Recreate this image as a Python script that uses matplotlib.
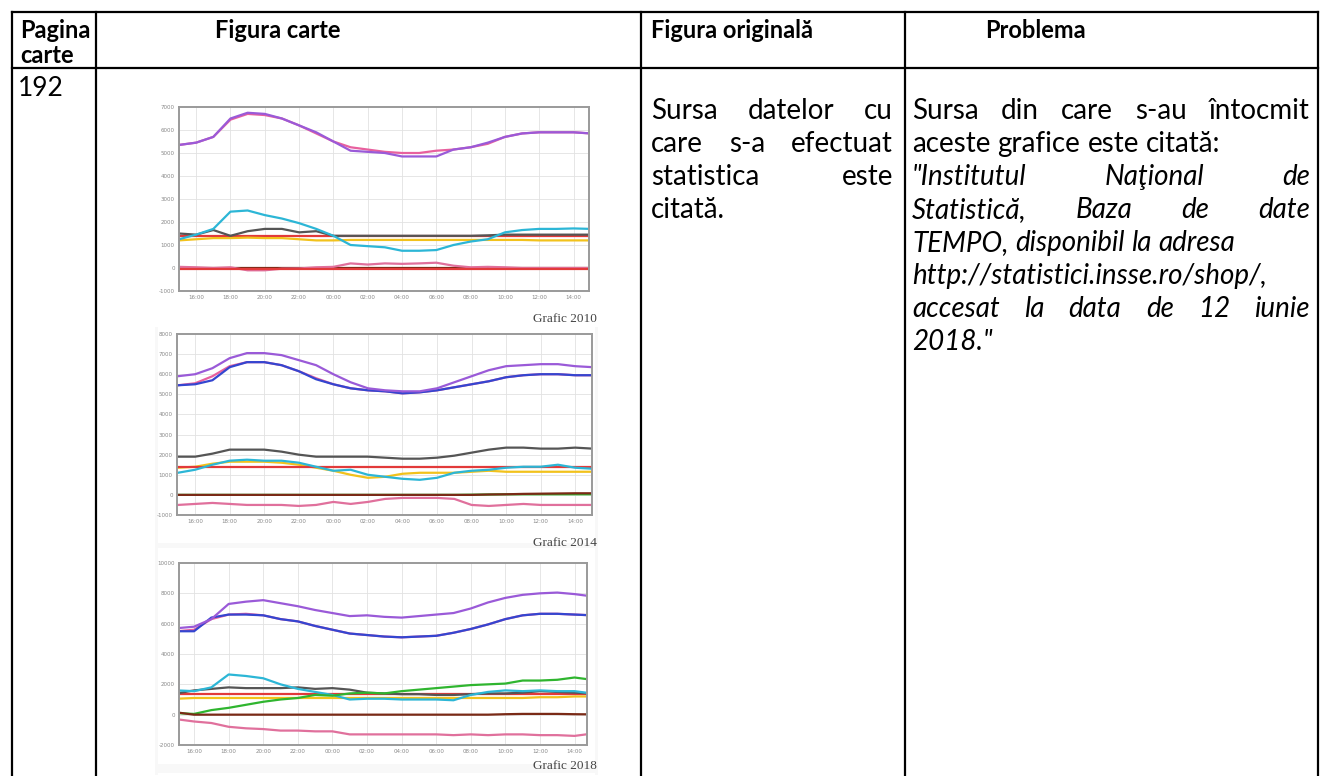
import matplotlib
matplotlib.use("Agg")
import matplotlib.pyplot as plt
from matplotlib.transforms import Affine2D
from matplotlib.lines import Line2D
from matplotlib.patches import Rectangle

# ---------------- data ----------------
HOURS = [15, 16, 17, 18, 19, 20, 21, 22, 23, 24, 25, 26, 27, 28, 29, 30, 31, 32, 33, 34, 35, 36, 37, 38, 39]
XTICKS = [16, 18, 20, 22, 24, 26, 28, 30, 32, 34, 36, 38]
XTICK_LABELS = ["16:00", "18:00", "20:00", "22:00", "00:00", "02:00", "04:00", "06:00",
                "08:00", "10:00", "12:00", "14:00"]

# Grafic 2010
purple10 = [5350, 5450, 5700, 6500, 6750, 6700, 6500, 6200, 5900, 5500, 5100, 5050, 5000, 4850, 4850, 4850, 5150, 5250, 5450, 5700, 5850, 5900, 5900, 5900, 5850]
pink10 = [5350, 5450, 5700, 6450, 6700, 6650, 6500, 6200, 5850, 5500, 5250, 5150, 5050, 5000, 5000, 5100, 5150, 5250, 5400, 5700, 5850, 5900, 5900, 5900, 5850]
cyan10 = [1250, 1450, 1700, 2450, 2500, 2300, 2150, 1950, 1700, 1400, 1000, 950, 900, 750, 750, 780, 1000, 1150, 1250, 1550, 1650, 1700, 1700, 1720, 1700]
gray10 = [1500, 1450, 1650, 1400, 1600, 1700, 1700, 1550, 1600, 1400, 1400, 1400, 1400, 1400, 1400, 1400, 1400, 1400, 1420, 1450, 1450, 1450, 1450, 1450, 1450]
red10 = [1400, 1400, 1400, 1400, 1400, 1400, 1400, 1400, 1400, 1400, 1400, 1400, 1400, 1400, 1400, 1400, 1400, 1400, 1400, 1400, 1400, 1400, 1400, 1400, 1400]
yellow10 = [1200, 1250, 1300, 1300, 1320, 1300, 1300, 1250, 1200, 1200, 1220, 1220, 1220, 1220, 1220, 1220, 1220, 1220, 1220, 1220, 1220, 1200, 1200, 1200, 1200]
sold10 = [50, 30, 0, 30, -100, -100, -30, -20, 30, 50, 200, 150, 200, 180, 200, 230, 100, 30, 50, 30, 0, 0, 0, 0, 0]
brown10 = [0, 0, 0, 0, 0, 0, 0, 0, 0, 0, 0, 0, 0, 0, 0, 0, 0, 0, 0, 0, 0, 0, 0, 0, 0]
redlow10 = [-50, -50, -50, -50, -50, -50, -50, -50, -50, -50, -50, -50, -50, -50, -50, -50, -50, -50, -50, -50, -50, -50, -50, -50, -50]

# Grafic 2014
purple14 = [5900, 6000, 6300, 6800, 7050, 7050, 6950, 6700, 6450, 6000, 5600, 5300, 5200, 5150, 5150, 5300, 5600, 5900, 6200, 6400, 6450, 6500, 6500, 6400, 6350]
blue14 = [5450, 5500, 5700, 6350, 6600, 6600, 6450, 6150, 5750, 5500, 5300, 5200, 5150, 5050, 5100, 5200, 5350, 5500, 5650, 5850, 5950, 6000, 6000, 5950, 5950]
pink14 = [5450, 5550, 5900, 6400, 6600, 6600, 6450, 6150, 5800, 5500, 5300, 5200, 5150, 5050, 5100, 5200, 5350, 5500, 5650, 5850, 5950, 6000, 6000, 5950, 5950]
gray14 = [1900, 1900, 2050, 2250, 2250, 2250, 2150, 2000, 1900, 1900, 1900, 1900, 1850, 1800, 1800, 1850, 1950, 2100, 2250, 2350, 2350, 2300, 2300, 2350, 2300]
cyan14 = [1100, 1250, 1500, 1700, 1750, 1700, 1700, 1600, 1400, 1200, 1250, 1000, 900, 800, 750, 850, 1100, 1200, 1250, 1350, 1400, 1400, 1500, 1350, 1300]
yellow14 = [1350, 1400, 1550, 1650, 1650, 1650, 1600, 1500, 1350, 1200, 1000, 850, 900, 1050, 1100, 1100, 1100, 1150, 1200, 1150, 1150, 1150, 1150, 1150, 1150]
red14 = [1400, 1400, 1400, 1400, 1400, 1400, 1400, 1400, 1400, 1400, 1400, 1400, 1400, 1400, 1400, 1400, 1400, 1400, 1400, 1400, 1400, 1400, 1400, 1400, 1400]
sold14 = [-500, -450, -400, -450, -500, -500, -500, -550, -500, -350, -450, -350, -200, -150, -150, -150, -200, -500, -550, -500, -450, -500, -500, -500, -500]
green14 = [0, 0, 0, 0, 0, 0, 0, 0, 0, 0, 0, 0, 0, 0, 0, 0, 0, 10, 20, 30, 30, 30, 30, 30, 30]
brown14 = [0, 0, 0, 0, 0, 0, 0, 0, 0, 0, 0, 0, 0, 0, 0, 0, 0, 0, 20, 30, 50, 60, 70, 80, 80]

# Grafic 2018
purple18 = [5700, 5800, 6300, 7300, 7450, 7550, 7350, 7150, 6900, 6700, 6500, 6550, 6450, 6400, 6500, 6600, 6700, 7000, 7400, 7700, 7900, 8000, 8050, 7950, 7800]
blue18 = [5500, 5500, 6400, 6600, 6600, 6550, 6300, 6150, 5850, 5600, 5350, 5250, 5150, 5100, 5150, 5200, 5400, 5650, 5950, 6300, 6550, 6650, 6650, 6600, 6550]
pink18 = [5500, 5600, 6300, 6600, 6650, 6550, 6300, 6150, 5850, 5600, 5350, 5250, 5150, 5100, 5150, 5200, 5400, 5650, 5950, 6300, 6550, 6650, 6650, 6600, 6550]
cyan18 = [1600, 1550, 1800, 2650, 2550, 2400, 2000, 1700, 1500, 1300, 1000, 1050, 1050, 1000, 1000, 1000, 950, 1300, 1500, 1600, 1550, 1600, 1550, 1550, 1400]
green18 = [100, 50, 300, 450, 650, 850, 1000, 1100, 1300, 1250, 1400, 1450, 1400, 1550, 1650, 1750, 1850, 1950, 2000, 2050, 2250, 2250, 2300, 2450, 2300]
gray18 = [1400, 1600, 1700, 1800, 1750, 1750, 1750, 1800, 1700, 1750, 1650, 1450, 1400, 1350, 1350, 1300, 1300, 1350, 1400, 1400, 1450, 1550, 1500, 1450, 1400]
red18 = [1350, 1350, 1350, 1350, 1350, 1350, 1350, 1350, 1350, 1350, 1350, 1350, 1350, 1350, 1350, 1350, 1350, 1350, 1350, 1350, 1350, 1350, 1350, 1350, 1350]
yellow18 = [1050, 1100, 1100, 1100, 1100, 1100, 1100, 1100, 1100, 1100, 1100, 1100, 1100, 1100, 1100, 1100, 1100, 1100, 1100, 1100, 1100, 1150, 1150, 1200, 1200]
brown18 = [150, 0, 0, 0, 0, 0, 0, 0, 0, 0, 0, 0, 0, 0, 0, 0, 0, 0, 0, 30, 50, 50, 50, 30, 20]
sold18 = [-300, -450, -550, -800, -900, -950, -1050, -1050, -1100, -1100, -1300, -1300, -1300, -1300, -1300, -1300, -1350, -1300, -1350, -1300, -1300, -1350, -1350, -1400, -1250]

CHART_TITLES = ["Grafic 2010", "Grafic 2014", "Grafic 2018"]

HEADERS = ["Figura carte", "Figura originală", "Problema"]
COL3_LINES = [("Sursa datelor cu", True), ("care s-a efectuat", True),
              ("statistica este", True), ("citată.", False)]
COL4_LINES = [("Sursa din care s-au întocmit", True, False),
              ("aceste grafice este citată:", False, False),
              ("\"Institutul Naţional de", True, True),
              ("Statistică, Baza de date", True, True),
              ("TEMPO, disponibil la adresa", False, True),
              ("http://statistici.insse.ro/shop/,", False, True),
              ("accesat la data de 12 iunie", True, True),
              ("2018.\"", False, True)]

# ---------------- colours ----------------
C_PURPLE = "#9a5ad8"
C_PINK = "#e8609e"
C_BLUE = "#3446d0"
C_CYAN = "#2cb6d6"
C_GRAY = "#555555"
C_YELLOW = "#f2c21c"
C_RED = "#e23a3a"
C_BROWN = "#7a2a16"
C_GREEN = "#2fb52f"
C_SOLD = "#e0709c"

W, H = 1328, 776
fig = plt.figure(figsize=(W / 100, H / 100), dpi=100)
fig.patch.set_facecolor("white")
PX = Affine2D().scale(1, -1).translate(0, H)  # pixel coords, y downward

FONT = ["Lato", "DejaVu Sans"]

# ---------------- table grid ----------------
L, T, R, B = 12, 12, 1318, 776
COLS = [96, 641, 905]
HDR = 68
lw_tab = 1.6
for x in [L] + COLS + [R]:
    fig.add_artist(Line2D([x, x], [T, B], transform=PX, color="black", lw=lw_tab))
for y in [T, HDR]:
    fig.add_artist(Line2D([L, R], [y, y], transform=PX, color="black", lw=lw_tab))

HFS = 17
BFS = 20
fig.text(20, 38, "Pagina", transform=PX, fontsize=HFS, fontweight="bold", family=FONT, va="baseline")
fig.text(20, 63, "carte", transform=PX, fontsize=HFS, fontweight="bold", family=FONT, va="baseline")
fig.text(215, 38, HEADERS[0], transform=PX, fontsize=HFS, fontweight="bold", family=FONT, va="baseline")
fig.text(651, 38, HEADERS[1], transform=PX, fontsize=HFS, fontweight="bold", family=FONT, va="baseline")
fig.text(985, 38, HEADERS[2], transform=PX, fontsize=HFS, fontweight="bold", family=FONT, va="baseline")
fig.text(18, 96, "192", transform=PX, fontsize=BFS - 1, family=FONT, va="baseline")

renderer = fig.canvas.get_renderer()


def put_line(text, x0, x1, y, justify, italic=False):
    words = text.split(" ")
    style = "italic" if italic else "normal"
    ts = [fig.text(0, y, w, transform=PX, fontsize=BFS, family=FONT, style=style,
                   va="baseline", ha="left") for w in words]
    ws = [t.get_window_extent(renderer).width for t in ts]
    if justify and len(words) > 1:
        gap = (x1 - x0 - sum(ws)) / (len(words) - 1)
    else:
        sp = fig.text(0, 0, "a a", transform=PX, fontsize=BFS, family=FONT, style=style)
        sp2 = fig.text(0, 0, "aa", transform=PX, fontsize=BFS, family=FONT, style=style)
        gap = sp.get_window_extent(renderer).width - sp2.get_window_extent(renderer).width
        sp.remove()
        sp2.remove()
    x = x0
    for t, w in zip(ts, ws):
        t.set_x(x)
        x += w + gap


y0 = 119
for i, (s, j) in enumerate(COL3_LINES):
    put_line(s, 651, 893, y0 + i * 33, j)
for i, (s, j, it) in enumerate(COL4_LINES):
    put_line(s, 912, 1310, y0 + i * 33, j, it)

# ---------------- charts ----------------
charts = [
    dict(img=(155, 100, 598, 327), ax=(179, 107, 589, 291), xlim=(15.0, 38.9),
         ylim=(-1000, 7000), yt=[-1000, 0, 1000, 2000, 3000, 4000, 5000, 6000, 7000],
         title_y=318,
         series=[(red10, C_RED), (yellow10, C_YELLOW), (gray10, C_GRAY), (cyan10, C_CYAN),
                 (brown10, C_BROWN), (sold10, C_SOLD), (redlow10, C_RED),
                 (pink10, C_PINK), (purple10, C_PURPLE)]),
    dict(img=(155, 327, 598, 551), ax=(177, 334, 592, 515), xlim=(14.95, 38.97),
         ylim=(-1000, 8000), yt=[-1000, 0, 1000, 2000, 3000, 4000, 5000, 6000, 7000, 8000],
         title_y=542,
         series=[(yellow14, C_YELLOW), (red14, C_RED), (cyan14, C_CYAN), (gray14, C_GRAY),
                 (green14, C_GREEN), (brown14, C_BROWN), (sold14, C_SOLD),
                 (pink14, C_PINK), (blue14, C_BLUE), (purple14, C_PURPLE)]),
    dict(img=(155, 551, 598, 776), ax=(179, 563, 587, 745), xlim=(15.13, 38.72),
         ylim=(-2000, 10000), yt=[-2000, 0, 2000, 4000, 6000, 8000, 10000],
         title_y=765,
         series=[(yellow18, C_YELLOW), (red18, C_RED), (gray18, C_GRAY), (cyan18, C_CYAN),
                 (green18, C_GREEN), (brown18, C_BROWN), (sold18, C_SOLD),
                 (pink18, C_PINK), (blue18, C_BLUE), (purple18, C_PURPLE)]),
]

for k, c in enumerate(charts):
    x0, y0_, x1, y1 = c["img"]
    fig.add_artist(Rectangle((x0, y1), x1 - x0, y1 - y0_, transform=PX,
                             facecolor="#f8f8f8", edgecolor="none", zorder=0))
    fig.add_artist(Rectangle((x0 + 3, y1 - 3), x1 - x0 - 6, y1 - y0_ - 8, transform=PX,
                             facecolor="white", edgecolor="none", zorder=0))
    l, t, r, b = c["ax"]
    ax = fig.add_axes([l / W, 1 - b / H, (r - l) / W, (b - t) / H])
    for vals, col in c["series"]:
        ax.plot(HOURS, vals, color=col, lw=1.6, solid_joinstyle="round")
    ax.set_xlim(*c["xlim"])
    ax.set_ylim(*c["ylim"])
    ax.set_xticks(XTICKS)
    ax.set_xticklabels(XTICK_LABELS)
    ax.set_yticks(c["yt"])
    ax.set_yticklabels([str(v) for v in c["yt"]])
    ax.tick_params(labelsize=4, colors="#888888", length=0, pad=3)
    ax.grid(True, color="#e2e2e2", lw=0.6)
    ax.set_axisbelow(True)
    for s in ax.spines.values():
        s.set_color("#9a9a9a")
        s.set_linewidth(1.4)
    fig.text(597, c["title_y"] + 4, CHART_TITLES[k], transform=PX, fontsize=9.5,
             family=["Liberation Serif"], color="#444444", ha="right", va="baseline")

fig.savefig("out.png", dpi=100)
